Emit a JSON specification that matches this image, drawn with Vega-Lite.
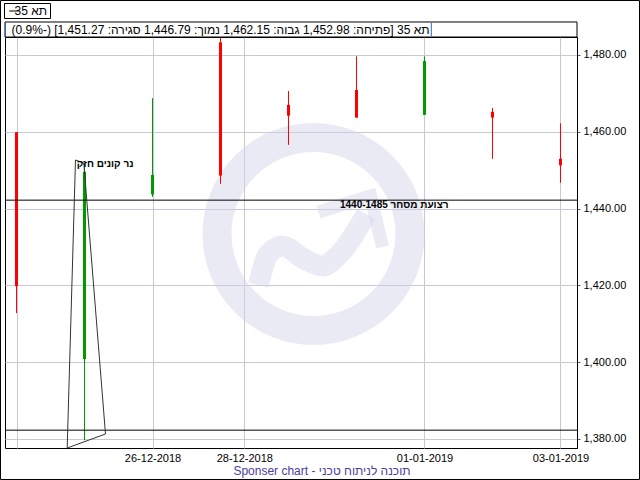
{
  "$schema": "https://vega.github.io/schema/vega-lite/v6.json",
  "width": 572,
  "height": 411,
  "autosize": {"type": "none"},
  "padding": {"left": 5, "top": 37, "right": 63, "bottom": 32},
  "background": "white",
  "config": {
    "view": {"stroke": "#000000", "strokeWidth": 1},
    "font": "Liberation Sans",
    "text": {"font": "Liberation Sans"}
  },
  "datasets": {
    "candles": [
      {"date": "24-12-2018", "i": 0, "open": 1459.9, "high": 1459.9, "low": 1412.8, "close": 1419.8},
      {"date": "25-12-2018", "i": 1, "open": 1400.8, "high": 1451.9, "low": 1379.7, "close": 1449.6},
      {"date": "26-12-2018", "i": 2, "open": 1443.7, "high": 1468.7, "low": 1443.1, "close": 1448.75},
      {"date": "27-12-2018", "i": 3, "open": 1483.3, "high": 1484.7, "low": 1446.5, "close": 1448.6},
      {"date": "30-12-2018", "i": 4, "open": 1467.0, "high": 1470.6, "low": 1456.6, "close": 1464.2},
      {"date": "31-12-2018", "i": 5, "open": 1470.9, "high": 1479.6, "low": 1463.7, "close": 1463.7},
      {"date": "01-01-2019", "i": 6, "open": 1464.4, "high": 1479.6, "low": 1464.4, "close": 1478.4},
      {"date": "02-01-2019", "i": 7, "open": 1465.2, "high": 1466.2, "low": 1453.0, "close": 1463.7},
      {"date": "03-01-2019", "i": 8, "open": 1452.98, "high": 1462.15, "low": 1446.79, "close": 1451.27}
    ],
    "triangle": [
      {"o": 1, "i": 0.8676, "p": 1452.656},
      {"o": 2, "i": 0.7456, "p": 1377.656},
      {"o": 3, "i": 1.3088, "p": 1381.302},
      {"o": 4, "i": 0.9897, "p": 1451.875},
      {"o": 5, "i": 0.8676, "p": 1452.656}
    ],
    "swoosh": [
      {"o": 1, "i": 3.5588, "p": 1420.104},
      {"o": 2, "i": 3.7059, "p": 1428.177},
      {"o": 3, "i": 3.9118, "p": 1430.26},
      {"o": 4, "i": 4.2059, "p": 1427.135},
      {"o": 5, "i": 4.5, "p": 1425.052},
      {"o": 6, "i": 4.7353, "p": 1427.917},
      {"o": 7, "i": 5.1471, "p": 1438.594}
    ],
    "chevron": [
      {"o": 1, "i": 4.4412, "p": 1439.115},
      {"o": 2, "i": 5.2059, "p": 1443.281},
      {"o": 3, "i": 5.3824, "p": 1429.99}
    ]
  },
  "layer": [
    {
      "data": {"name": "candles"},
      "mark": {"type": "rule", "strokeWidth": 1},
      "encoding": {
        "x": {
          "field": "i", "type": "quantitative",
          "scale": {"domain": [-0.16912, 8.24265], "nice": false, "zero": false},
          "axis": {
            "title": null,
            "values": [0, 2, 3.35, 6, 8],
            "labelExpr": "datum.value == 2 ? '26-12-2018' : datum.value == 3.35 ? '28-12-2018' : datum.value == 6 ? '01-01-2019' : datum.value == 8 ? '03-01-2019' : ''",
            "grid": true, "gridColor": "#C8C8D8", "gridOpacity": 1,
            "domain": false, "ticks": false,
            "labelPadding": 4, "labelFontSize": 11, "labelColor": "#000000",
            "labelFont": "Liberation Sans", "labelOverlap": false, "labelFlush": false
          }
        },
        "y": {
          "field": "low", "type": "quantitative",
          "scale": {"domain": [1377.656, 1484.6875], "nice": false, "zero": false},
          "axis": {
            "title": null, "orient": "right",
            "values": [1380, 1400, 1420, 1440, 1460, 1480],
            "format": ",.2f",
            "grid": true, "gridColor": "#C8C8D8", "gridOpacity": 1,
            "domain": true, "domainColor": "#000000",
            "ticks": true, "tickSize": 3, "tickColor": "#606060",
            "labelPadding": 3, "labelFontSize": 11, "labelColor": "#000000",
            "labelFont": "Liberation Sans", "labelOverlap": false, "labelFlush": false
          }
        },
        "y2": {"field": "high"},
        "color": {"condition": {"test": "datum.close >= datum.open", "value": "#009900"}, "value": "#FF0000"}
      }
    },
    {
      "data": {"name": "swoosh"},
      "mark": {"type": "line", "strokeWidth": 21, "color": "#D2D2EA", "opacity": 0.45, "strokeJoin": "round", "strokeCap": "butt", "interpolate": "monotone"},
      "encoding": {
        "x": {"field": "i", "type": "quantitative"},
        "y": {"field": "p", "type": "quantitative"},
        "order": {"field": "o"}
      }
    },
    {
      "data": {"name": "chevron"},
      "mark": {"type": "line", "strokeWidth": 13, "color": "#D2D2EA", "opacity": 0.45, "strokeJoin": "miter", "strokeCap": "butt"},
      "encoding": {
        "x": {"field": "i", "type": "quantitative"},
        "y": {"field": "p", "type": "quantitative"},
        "order": {"field": "o"}
      }
    },
    {
      "data": {"values": [{}]},
      "mark": {"type": "point", "shape": "circle", "filled": false, "size": 37249, "strokeWidth": 29, "color": "#D2D2EA", "opacity": 0.45},
      "encoding": {
        "x": {"datum": 4.3676, "type": "quantitative"},
        "y": {"datum": 1433.385, "type": "quantitative"}
      }
    },
    {
      "data": {"name": "candles"},
      "mark": {"type": "rule", "strokeWidth": 3},
      "encoding": {
        "x": {"field": "i", "type": "quantitative"},
        "y": {"field": "open", "type": "quantitative"},
        "y2": {"field": "close"},
        "color": {"condition": {"test": "datum.close >= datum.open", "value": "#009900"}, "value": "#FF0000"}
      }
    },
    {
      "data": {"name": "candles"},
      "mark": {"type": "rule", "strokeWidth": 1},
      "encoding": {
        "x": {"field": "i", "type": "quantitative"},
        "y": {"field": "low", "type": "quantitative"},
        "y2": {"field": "high"},
        "color": {"condition": {"test": "datum.close >= datum.open", "value": "#009900"}, "value": "#FF0000"}
      }
    },
    {
      "data": {"values": [{"level": 1442.2}, {"level": 1382.3}]},
      "mark": {"type": "rule", "color": "#000000", "strokeWidth": 1},
      "encoding": {"y": {"field": "level", "type": "quantitative"}}
    },
    {
      "data": {"name": "triangle"},
      "mark": {"type": "line", "color": "#333333", "strokeWidth": 1},
      "encoding": {
        "x": {"field": "i", "type": "quantitative"},
        "y": {"field": "p", "type": "quantitative"},
        "order": {"field": "o"}
      }
    },
    {
      "data": {"values": [{}]},
      "mark": {"type": "text", "text": "\u202bנר קונים חזק\u202c", "align": "right", "baseline": "middle", "fontSize": 10, "fontWeight": "bold", "color": "#000000"},
      "encoding": {
        "x": {"datum": 1.7206, "type": "quantitative"},
        "y": {"datum": 1451.61, "type": "quantitative"}
      }
    },
    {
      "data": {"values": [{}]},
      "mark": {"type": "text", "text": "\u202bרצועת מסחר 1440-1485\u202c", "align": "right", "baseline": "middle", "fontSize": 10, "fontWeight": "bold", "color": "#000000"},
      "encoding": {
        "x": {"datum": 6.3529, "type": "quantitative"},
        "y": {"datum": 1440.94, "type": "quantitative"}
      }
    },
    {
      "data": {"values": [{}]},
      "mark": {"type": "rect", "fill": "#FFFFFF", "stroke": "#000000", "strokeWidth": 1},
      "encoding": {
        "x": {"datum": -0.16912, "type": "quantitative"},
        "x2": {"datum": 8.24265},
        "y": {"datum": 1488.594, "type": "quantitative"},
        "y2": {"datum": 1484.6875}
      }
    },
    {
      "data": {"values": [{"i": -0.1618}, {"i": 6.1}]},
      "mark": {"type": "rule", "color": "#3366CC", "strokeWidth": 1},
      "encoding": {
        "x": {"field": "i", "type": "quantitative"},
        "y": {"datum": 1488.4, "type": "quantitative"},
        "y2": {"datum": 1484.9}
      }
    },
    {
      "data": {"values": [{}]},
      "mark": {"type": "text", "text": "\u202bתא 35 [פתיחה: 1,452.98 גבוה: 1,462.15 נמוך: 1,446.79 סגירה: 1,451.27] (-0.9%)\u202c", "align": "right", "baseline": "middle", "fontSize": 12, "color": "#000000"},
      "encoding": {
        "x": {"datum": 6.0735, "type": "quantitative"},
        "y": {"datum": 1486.51, "type": "quantitative"}
      }
    },
    {
      "data": {"values": [{}]},
      "mark": {"type": "rect", "fill": "#FFFFFF", "stroke": "#000000", "strokeWidth": 1},
      "encoding": {
        "x": {"datum": -0.1765, "type": "quantitative"},
        "x2": {"datum": 0.5},
        "y": {"datum": 1493.411, "type": "quantitative"},
        "y2": {"datum": 1489.505}
      }
    },
    {
      "data": {"values": [{}]},
      "mark": {"type": "rule", "color": "#000000", "strokeWidth": 1},
      "encoding": {
        "x": {"datum": -0.1066, "type": "quantitative"},
        "x2": {"datum": 0.0265},
        "y": {"datum": 1491.458, "type": "quantitative"}
      }
    },
    {
      "data": {"values": [{}]},
      "mark": {"type": "text", "text": "\u202bתא 35\u202c", "align": "right", "baseline": "middle", "fontSize": 12, "color": "#000000"},
      "encoding": {
        "x": {"datum": 0.4485, "type": "quantitative"},
        "y": {"datum": 1491.458, "type": "quantitative"}
      }
    },
    {
      "data": {"values": [{}]},
      "mark": {"type": "text", "text": "Sponser chart - תוכנה לניתוח טכני", "align": "center", "baseline": "middle", "fontSize": 12, "color": "#4B3CA0"},
      "encoding": {
        "x": {"datum": 4.4926, "type": "quantitative"},
        "y": {"datum": 1371.667, "type": "quantitative"}
      }
    },
    {
      "data": {"values": [{}]},
      "mark": {"type": "rect", "fill": "transparent", "stroke": "#000000", "strokeWidth": 1},
      "encoding": {
        "x": {"datum": -0.2353, "type": "quantitative"},
        "x2": {"datum": 9.1618},
        "y": {"datum": 1494.193, "type": "quantitative"},
        "y2": {"datum": 1369.453}
      }
    }
  ]
}
